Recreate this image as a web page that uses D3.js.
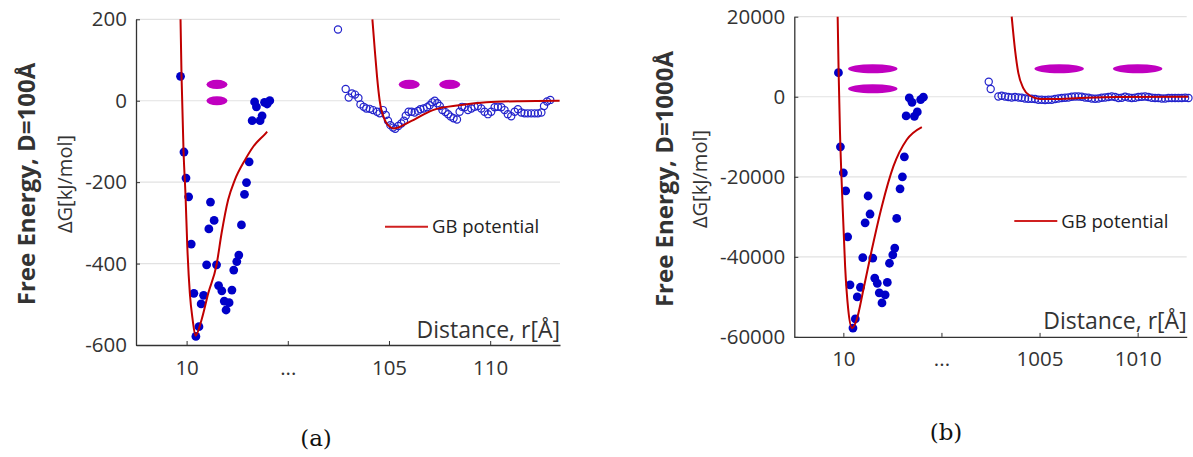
<!DOCTYPE html>
<html>
<head>
<meta charset="utf-8">
<script src="https://cdn.jsdelivr.net/npm/d3@7"></script>
<style>
  html, body { margin: 0; padding: 0; background: #fff; }
  svg { display: block; font-family: "Open Sans", sans-serif; }
</style>
</head>
<body>
<svg id="fig" width="1193" height="457"></svg>
<script>
// ---------- Panel (a): D = 100 Å ----------
const nearDistA = [9.70, 9.87, 9.97, 10.10, 10.23, 10.36, 10.46, 10.61, 10.72, 10.84, 10.99, 11.10,
  11.18, 11.36, 11.48, 11.58, 11.74, 11.86, 11.95, 12.10, 12.24, 12.33, 12.48, 12.58, 12.71, 12.86,
  12.96, 13.09, 13.24, 13.36, 13.45, 13.63, 13.73, 13.85, 13.98, 14.11];
const nearEnergyA = [60, -126, -190, -236, -352, -473, -579, -555, -499, -478, -403, -315,
  -249, -294, -403, -454, -467, -492, -514, -496, -465, -416, -395, -379, -305, -230,
  -201, -150, -49, -3, -15, -49, -37, -4, -8, 0];

const farDistA = [102.48, 102.86, 103.01, 103.17, 103.32, 103.49, 103.59, 103.75, 103.88, 104.05,
  104.21, 104.41, 104.54, 104.70, 104.84, 104.95, 105.07, 105.20, 105.31, 105.46, 105.61, 105.74,
  105.83, 105.97, 106.12, 106.27, 106.43, 106.55, 106.71, 106.88, 107.01, 107.14, 107.26, 107.39,
  107.51, 107.64, 107.79, 107.92, 108.05, 108.19, 108.36, 108.49, 108.61, 108.74, 108.90, 109.07,
  109.23, 109.39, 109.56, 109.72, 109.89, 110.05, 110.22, 110.38, 110.55, 110.71, 110.87, 111.04,
  111.21, 111.37, 111.54, 111.70, 111.86, 112.03, 112.20, 112.36, 112.53, 112.66, 112.81, 112.97];
const farEnergyA = [175, 29, 8, 18, 15, 7, -9, -15, -19, -20,
  -23, -27, -31, -23, -35, -49, -60, -66, -69, -62, -56, -49,
  -37, -27, -27, -29, -25, -21, -19, -16, -11, -4, 0, -6,
  -13, -23, -28, -33, -39, -43, -46, -27, -15, -16, -23, -19,
  -15, -13, -19, -27, -33, -27, -16, -15, -16, -23, -33, -38,
  -27, -21, -29, -31, -31, -31, -31, -31, -29, -13, -2, 2];

// GB potential, sampled along the drawn curve
const gbNearDistA = [9.70, 9.75, 9.85, 9.95, 10.03, 10.16, 10.30, 10.44, 10.74, 11.07, 11.48,
  11.73, 12.05, 12.38, 12.88, 13.29, 13.91, 13.98];
const gbNearEnergyA = [200, 61, -126, -236, -352, -473, -538, -577, -538, -473, -403,
  -325, -244, -195, -146, -113, -80, -76];
const gbFarDistA = [104.18, 104.30, 104.41, 104.54, 104.79, 104.95, 105.23, 106.02, 107.17, 108.49,
  109.81, 111.45, 113.43];
const gbFarEnergyA = [200, 124, 59, 0, -47, -60, -68, -52, -23, -11, -4, -1, 0];

// molecule orientation sketches (centre distance, centre energy)
const glyphDistA = [11.5, 11.5, 106.0, 108.0];
const glyphEnergyA = [40, 0, 40, 40];

const yTicksA = [-600, -400, -200, 0, 200];
const yTickLabelsA = ["-600", "-400", "-200", "0", "200"];
const xTickLabelsA = ["10", "...", "105", "110"];

// ---------- Panel (b): D = 1000 Å ----------
const nearDistB = [9.75, 9.85, 10.00, 10.12, 10.22, 10.34, 10.49, 10.61, 10.71, 10.87, 10.99, 11.11,
  11.26, 11.36, 11.50, 11.60, 11.73, 11.83, 11.97, 12.13, 12.24, 12.35, 12.52, 12.62, 12.72, 12.89,
  13.01, 13.11, 13.20, 13.36, 13.50, 13.62, 13.77, 13.94, 14.08];
const nearEnergyB = [6000, -12500, -19000, -23500, -35000, -47000, -57800, -55500, -50000, -47600,
  -40200, -31500, -24800, -29300, -40300, -45300, -46600, -49000, -51500, -49500, -46400, -41600,
  -39500, -37800, -30400, -23000, -20000, -15000, -4800, -300, -1400, -4900, -3800, -700, -100];

const farDistB = [1002.41, 1002.51, 1002.90, 1003.07, 1003.24, 1003.41, 1003.58, 1003.75, 1003.92,
  1004.09, 1004.26, 1004.43, 1004.60, 1004.77, 1004.94, 1005.11, 1005.28, 1005.45, 1005.62, 1005.79,
  1005.96, 1006.13, 1006.30, 1006.47, 1006.64, 1006.81, 1006.98, 1007.15, 1007.32, 1007.49, 1007.66,
  1007.83, 1008.00, 1008.17, 1008.34, 1008.51, 1008.68, 1008.85, 1009.02, 1009.19, 1009.36, 1009.53,
  1009.70, 1009.87, 1010.04, 1010.21, 1010.38, 1010.55, 1010.72, 1010.89, 1011.06, 1011.23, 1011.40,
  1011.57, 1011.74, 1011.91, 1012.08, 1012.25, 1012.42, 1012.59];
const farEnergyB = [3750, 1920, 80, 250, 80, -80, -170, -80, -170, -250,
  -420, -500, -500, -580, -750, -750, -830, -750, -750, -580, -420, -330,
  -250, -170, 0, 80, 80, 0, -170, -250, -420, -500, -420, -250,
  -170, -80, 80, -80, -330, -250, 0, -170, -330, -250, -80, 0,
  80, -80, -250, -330, -330, -420, -420, -330, -330, -330, -330, -330, -250, -330];

const gbNearDistB = [9.71, 9.76, 9.83, 9.95, 10.09, 10.25, 10.44, 10.68, 11.02, 11.45, 11.96,
  12.55, 13.23, 14.00];
const gbNearEnergyB = [20000, 6000, -9070, -25730, -42390, -53210, -57780, -55700, -48210, -38220,
  -27400, -17410, -10740, -7570];
const gbFarDistB = [1003.58, 1003.75, 1003.92, 1004.17, 1004.52, 1005.03, 1005.70, 1007.06,
  1008.93, 1012.58];
const gbFarEnergyB = [20000, 11740, 5910, 2170, 250, -580, -580, -330, -80, 0];

const glyphDistB = [11.5, 11.5, 1006.0, 1010.0];
const glyphEnergyB = [7000, 2000, 7000, 7000];

const yTicksB = [-60000, -40000, -20000, 0, 20000];
const yTickLabelsB = ["-60000", "-40000", "-20000", "0", "20000"];
const xTickLabelsB = ["10", "...", "1005", "1010"];

// Broken distance axis: tick slots 10 | ... | far-10 | far-5 evenly spaced
const xTickSlots = [10, 15, 20, 25];

const zip = (a, b) => a.map((v, i) => [v, b[i]]);

const svg = d3.select("#fig");
svg.append("rect").attr("width", 1193).attr("height", 457).attr("fill", "#fff");

const RED = "#c00000", BLUE = "#0000c8", MAGENTA = "#c000c0", AXIS = "#333", GRID = "#e2e2e2", TEXT = "#333";

function drawPanel(p) {
  const g = svg.append("g");
  // distances beyond the break are shifted back onto the compressed axis
  const slot = r => (r > 50 ? r - p.shift : r);
  const x = d3.scaleLinear().domain(p.xDomain).range([p.left, p.right]);
  const y = d3.scaleLinear().domain([p.yTicks[0], p.yTicks[p.yTicks.length - 1]])
    .range([p.bottom, p.top]);
  const X = r => x(slot(r));

  // horizontal grid
  g.append("g").selectAll("line").data(p.yTicks.slice(1)).join("line")
    .attr("x1", p.left).attr("x2", p.right)
    .attr("y1", d => y(d)).attr("y2", d => y(d))
    .attr("stroke", GRID).attr("stroke-width", 1.2);

  // y axis
  const ya = g.append("g").attr("transform", `translate(${p.left},0)`)
    .call(d3.axisLeft(y).tickValues(p.yTicks).tickFormat((d, i) => p.yTickLabels[i])
      .tickSize(-4).tickSizeOuter(0).tickPadding(9));
  // x axis
  const xa = g.append("g").attr("transform", `translate(0,${p.bottom})`)
    .call(d3.axisBottom(x).tickValues(xTickSlots).tickFormat((d, i) => p.xTickLabels[i])
      .tickSize(-4).tickSizeOuter(0).tickPadding(15));
  [ya, xa].forEach(a => {
    a.select(".domain").attr("stroke", AXIS).attr("stroke-width", 1.3);
    a.selectAll(".tick line").attr("stroke", AXIS).attr("stroke-width", 1);
    a.selectAll(".tick text").attr("fill", TEXT).attr("font-size", 20.5)
      .attr("font-family", "'Open Sans', sans-serif");
  });

  // orientation sketches
  g.append("g").selectAll("ellipse").data(zip(p.glyphDist, p.glyphEnergy)).join("ellipse")
    .attr("cx", d => X(d[0])).attr("cy", d => y(d[1]))
    .attr("rx", p.glyphRx).attr("ry", 4.6).attr("fill", MAGENTA);

  // simulated free energy, contact region (filled)
  g.append("g").selectAll("circle").data(zip(p.nearDist, p.nearEnergy)).join("circle")
    .attr("cx", d => X(d[0])).attr("cy", d => y(d[1])).attr("r", 4.4).attr("fill", BLUE);

  // simulated free energy, separated region (open)
  g.append("g").selectAll("circle").data(zip(p.farDist, p.farEnergy)).join("circle")
    .attr("cx", d => X(d[0])).attr("cy", d => y(d[1])).attr("r", 3.6)
    .attr("fill", "none").attr("stroke", "#2323cc").attr("stroke-width", 1.2);

  // GB potential
  const line = d3.line().x(d => X(d[0])).y(d => y(d[1])).curve(d3.curveMonotoneX);
  [zip(p.gbNearDist, p.gbNearEnergy), zip(p.gbFarDist, p.gbFarEnergy)].forEach(seg => {
    g.append("path").attr("d", line(seg)).attr("fill", "none")
      .attr("stroke", RED).attr("stroke-width", 2).attr("stroke-linejoin", "round");
  });

  // legend
  g.append("line").attr("x1", p.legend[0]).attr("x2", p.legend[0] + 43)
    .attr("y1", p.legend[1]).attr("y2", p.legend[1]).attr("stroke", "#d02020").attr("stroke-width", 2);
  g.append("text").attr("x", p.legend[0] + 47).attr("y", p.legend[1] + 6.5)
    .attr("font-size", 18.5).attr("fill", "#222").text("GB potential");

  // axis titles
  g.append("text").attr("x", p.right).attr("y", p.bottom - 7.5).attr("text-anchor", "end")
    .attr("font-size", 23).attr("fill", TEXT).text("Distance, r[Å]");
  g.append("text").attr("transform", `translate(${p.title1[0]},${p.title1[1]}) rotate(-90)`)
    .attr("text-anchor", "middle").attr("font-size", 24).attr("font-weight", 700)
    .attr("fill", TEXT).text(p.title);
  g.append("text").attr("transform", `translate(${p.title2[0]},${p.title2[1]}) rotate(-90)`)
    .attr("text-anchor", "middle").attr("font-size", 20).attr("fill", TEXT).text("ΔG[kJ/mol]");

  // panel caption
  g.append("text").attr("x", p.caption[0]).attr("y", p.caption[1]).attr("text-anchor", "middle")
    .attr("font-family", "'DejaVu Serif', serif").attr("font-size", 23).attr("fill", "#111")
    .text(p.captionText);
}

drawPanel({
  left: 136, right: 560, top: 19.3, bottom: 345,
  xDomain: [7.5, 28.45], shift: 85,
  yTicks: yTicksA, yTickLabels: yTickLabelsA, xTickLabels: xTickLabelsA,
  nearDist: nearDistA, nearEnergy: nearEnergyA, farDist: farDistA, farEnergy: farEnergyA,
  gbNearDist: gbNearDistA, gbNearEnergy: gbNearEnergyA, gbFarDist: gbFarDistA, gbFarEnergy: gbFarEnergyA,
  glyphDist: glyphDistA, glyphEnergy: glyphEnergyA, glyphRx: 10.5,
  legend: [385, 226.7],
  title: "Free Energy, D=100Å", title1: [35, 184], title2: [72, 184],
  caption: [316, 446], captionText: "(a)"
});

drawPanel({
  left: 794.3, right: 1186.7, top: 16.7, bottom: 336.9,
  xDomain: [7.5, 27.5], shift: 985,
  yTicks: yTicksB, yTickLabels: yTickLabelsB, xTickLabels: xTickLabelsB,
  nearDist: nearDistB, nearEnergy: nearEnergyB, farDist: farDistB, farEnergy: farEnergyB,
  gbNearDist: gbNearDistB, gbNearEnergy: gbNearEnergyB, gbFarDist: gbFarDistB, gbFarEnergy: gbFarEnergyB,
  glyphDist: glyphDistB, glyphEnergy: glyphEnergyB, glyphRx: 24.7,
  legend: [1014.3, 221],
  title: "Free Energy, D=1000Å", title1: [673, 179], title2: [707, 179],
  caption: [946, 440], captionText: "(b)"
});
</script>
</body>
</html>
